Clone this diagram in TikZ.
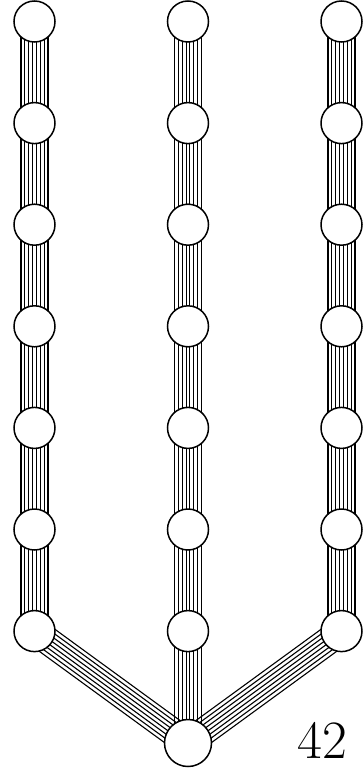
\documentclass[tikz,border=0pt]{standalone}
\usetikzlibrary{calc,backgrounds}

\tikzset{
  vert/.style={circle,draw,line width=1.5pt,fill=white,minimum size=41pt,inner sep=0pt},
  root/.style={vert,minimum size=47pt},
  strand/.style={line width=1.1pt}
}
% eight parallel strands between two nodes
\newcommand{\bundle}[2]{%
  \foreach \o in {0,...,7}{
    \pgfmathsetmacro\d{(\o-3.5)*3.86}
    \draw[strand] ($(#1)!\d pt!90:(#2)$) -- ($(#2)!\d pt!-90:(#1)$);
  }}

\begin{document}
\begin{tikzpicture}[x=1pt,y=-1pt]
  \useasboundingbox (0,0) rectangle (363,771);
  \foreach \c/\x in {l/34.5,m/188,r/341.5}
    \foreach \k in {1,...,7}
      \node[vert] (\c\k) at (\x,{21.5+(\k-1)*101.6}) {};
  \node[root] (base) at (188,743) {};
  \node[font=\fontsize{54}{54}\selectfont,inner sep=0pt] (tag) at (322,740) {42};
  \begin{scope}[on background layer]
    \foreach \c in {l,m,r}
      \foreach \k in {1,...,6}{
        \pgfmathtruncatemacro\n{\k+1}
        \bundle{\c\k}{\c\n}
      }
    \bundle{l7}{base}
    \bundle{m7}{base}
    \bundle{r7}{base}
  \end{scope}
\end{tikzpicture}
\end{document}
